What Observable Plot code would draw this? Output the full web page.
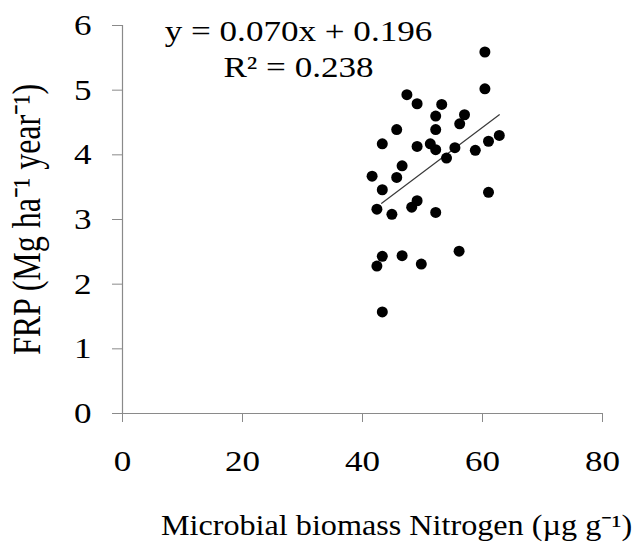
<!DOCTYPE html>
<html>
<head>
<meta charset="utf-8">
<script src="https://cdn.jsdelivr.net/npm/d3@7"></script>
<script src="https://cdn.jsdelivr.net/npm/@observablehq/plot@0.6"></script>
<style>
  html, body { margin: 0; padding: 0; background: #fff; }
  #chart svg { display: block; }
</style>
</head>
<body>
<div id="chart"></div>
<script>
// Microbial biomass Nitrogen (µg g-1)
const nitrogen = [41.6, 42.4, 42.4, 43.3, 43.3, 43.3, 43.3, 44.9, 45.7, 45.7, 46.6, 46.6, 47.4, 48.2, 49.1, 49.1, 49.1, 49.8, 51.3, 52.2, 52.2, 52.2, 52.2, 53.2, 54.0, 55.4, 56.1, 56.2, 57.0, 58.8, 60.4, 60.4, 61.0, 61.0, 62.8];
// FRP (Mg ha-1 year-1)
const frp = [3.67, 3.16, 2.28, 4.17, 3.46, 2.43, 1.57, 3.08, 4.39, 3.65, 3.83, 2.44, 4.93, 3.19, 4.79, 4.13, 3.29, 2.31, 4.17, 4.60, 4.39, 4.08, 3.11, 4.78, 3.95, 4.11, 2.51, 4.48, 4.62, 4.07, 5.59, 5.02, 4.21, 3.42, 4.30];
// trend line end points
const trendX = [43.2, 62.8];
const trendY = [3.25, 4.62];
const xTicks = [0, 20, 40, 60, 80];
const yTicks = [0, 1, 2, 3, 4, 5, 6];
const equationText = "y = 0.070x + 0.196";
const r2Text = "R\u00B2 = 0.238";
const xTitle = "Microbial biomass Nitrogen (\u00B5g g\u207B\u00B9)";
const yTitle = "FRP (Mg ha\u207B\u00B9 year\u207B\u00B9)";

const points = nitrogen.map((x, i) => ({x, y: frp[i]}));
const trend = trendX.map((x, i) => ({x, y: trendY[i]}));

const axisGray = "#8a8a8a";
const font = "Liberation Serif, Times New Roman, serif";

const chart = Plot.plot({
  width: 643,
  height: 544,
  marginLeft: 122,
  marginRight: 41,
  marginTop: 25,
  marginBottom: 131,
  style: {fontFamily: font, background: "#fff", color: "#000", overflow: "visible"},
  x: {domain: [0, 80]},
  y: {domain: [0, 6]},
  marks: [
    Plot.ruleY([0], {stroke: axisGray, strokeWidth: 1.2}),
    Plot.ruleX([0], {stroke: axisGray, strokeWidth: 1.2}),
    Plot.axisX({ticks: xTicks, tickSize: 9, tickPadding: 27, stroke: axisGray, fill: "#000", fontSize: 30, fontFamily: font, label: null, tickFormat: d => String(d)}),
    Plot.axisY({ticks: yTicks, tickSize: 10, tickPadding: 21, stroke: axisGray, fill: "#000", fontSize: 30, fontFamily: font, label: null, tickFormat: d => String(d)}),
    Plot.line(trend, {x: "x", y: "y", stroke: "#3a3a3a", strokeWidth: 1.2}),
    Plot.dot(points, {x: "x", y: "y", r: 5.5, fill: "#000", stroke: "none"}),
    Plot.text([equationText], {frameAnchor: "top-left", dx: 176, dy: 6, text: d => d, fontSize: 30, fontFamily: font, textAnchor: "middle", lineAnchor: "middle", fill: "#000"}),
    Plot.text([r2Text], {frameAnchor: "top-left", dx: 176, dy: 42, text: d => d, fontSize: 30, fontFamily: font, textAnchor: "middle", lineAnchor: "middle", fill: "#000"}),
    Plot.text([xTitle], {frameAnchor: "bottom", dx: 34, dy: 112, text: d => d, fontSize: 29, fontFamily: font, textAnchor: "middle", lineAnchor: "middle", fill: "#000"}),
    Plot.text([yTitle], {frameAnchor: "left", dx: -95, dy: 0, rotate: -90, text: d => d, fontSize: 32, fontFamily: font, textAnchor: "middle", lineAnchor: "middle", fill: "#000"})
  ]
});

document.getElementById("chart").appendChild(chart);

// The reference typeface is drawn horizontally stretched; reproduce that.
d3.select(chart).selectAll("text").each(function() {
  const t = d3.select(this);
  const content = this.textContent;
  let tr = t.attr("transform");
  if (!tr) {
    const x = +t.attr("x") || 0, y = +t.attr("y") || 0;
    t.attr("x", null).attr("y", null);
    tr = `translate(${x},${y})`;
  }
  let s = " scale(1.17,1)";
  if (content.indexOf("FRP") === 0) s = " scale(1,1.25)";
  else if (content.indexOf("Microbial") === 0) s = " scale(1.11,1)";
  t.attr("transform", tr + s);
});
</script>
</body>
</html>
